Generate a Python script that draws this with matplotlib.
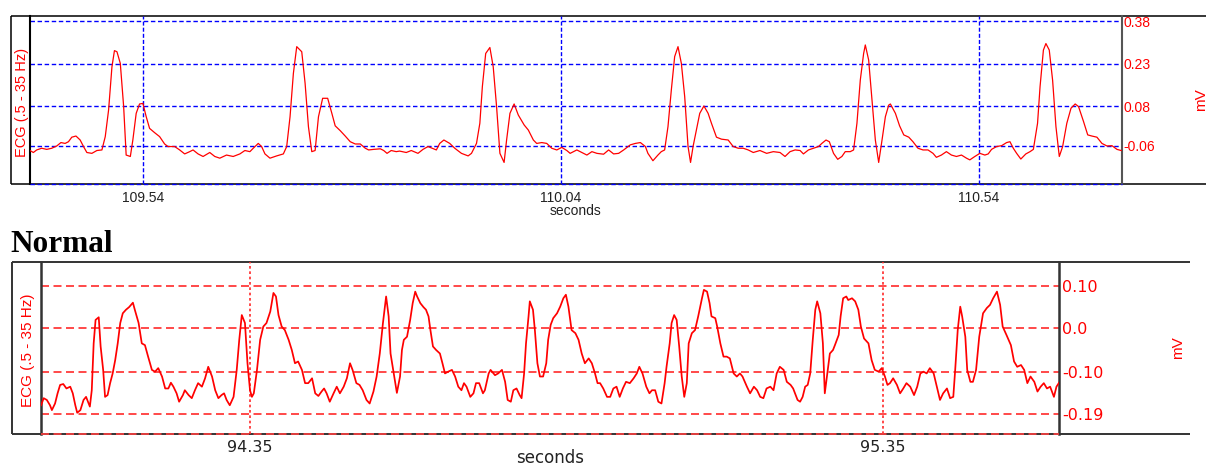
import matplotlib
matplotlib.use("Agg")
import matplotlib.pyplot as plt
from matplotlib.lines import Line2D

plt.rcParams['font.family'] = ['Liberation Sans', 'DejaVu Sans']

W, H = 1206, 470

# ---- upper recording (seconds, mV) ----
top_t = [
    109.405, 109.409, 109.413, 109.419, 109.425, 109.431, 109.437, 109.442, 109.447, 109.451,
    109.455, 109.460, 109.465, 109.469, 109.473, 109.479, 109.485, 109.491, 109.495, 109.499,
    109.503, 109.506, 109.509, 109.513, 109.517, 109.520, 109.525, 109.528, 109.532, 109.536,
    109.540, 109.544, 109.548, 109.554, 109.560, 109.566, 109.570, 109.578, 109.584, 109.590,
    109.596, 109.600, 109.606, 109.612, 109.620, 109.626, 109.632, 109.640, 109.648, 109.656,
    109.662, 109.668, 109.672, 109.678, 109.682, 109.686, 109.692, 109.700, 109.708, 109.712,
    109.716, 109.720, 109.724, 109.730, 109.734, 109.738, 109.742, 109.746, 109.750, 109.755,
    109.761, 109.766, 109.770, 109.776, 109.782, 109.788, 109.794, 109.800, 109.806, 109.810,
    109.816, 109.824, 109.828, 109.832, 109.837, 109.843, 109.847,
    109.855, 109.861, 109.869, 109.875, 109.881, 109.887, 109.891, 109.895, 109.900, 109.907,
    109.913, 109.921, 109.929, 109.933, 109.939, 109.943, 109.946, 109.950, 109.955, 109.959,
    109.963, 109.967, 109.972, 109.975, 109.979, 109.984, 109.989, 109.996, 110.001, 110.007,
    110.011, 110.017, 110.023, 110.029, 110.035, 110.041, 110.047, 110.051, 110.059, 110.065,
    110.071, 110.077, 110.083, 110.091, 110.097, 110.103, 110.109, 110.115, 110.123, 110.129,
    110.135, 110.141, 110.144, 110.150, 110.156, 110.160, 110.164, 110.168, 110.172, 110.176,
    110.180, 110.184, 110.188, 110.192, 110.195, 110.198, 110.202, 110.206, 110.211, 110.216,
    110.220, 110.226, 110.232, 110.240, 110.246, 110.252, 110.258, 110.264, 110.270, 110.278,
    110.286, 110.294, 110.302, 110.308, 110.314, 110.320, 110.326,
    110.330, 110.336, 110.342, 110.348, 110.352, 110.357, 110.361, 110.366, 110.371, 110.376,
    110.380, 110.386, 110.390, 110.394, 110.398, 110.402, 110.404, 110.408, 110.412, 110.416,
    110.420, 110.424, 110.428, 110.432, 110.434, 110.440, 110.445, 110.450, 110.456, 110.461,
    110.467, 110.473, 110.479, 110.485, 110.489, 110.495, 110.501, 110.507, 110.513, 110.519,
    110.525, 110.529, 110.535, 110.541, 110.547, 110.551, 110.555, 110.561, 110.567, 110.573,
    110.577, 110.581, 110.585, 110.590, 110.596, 110.601, 110.605, 110.610, 110.613, 110.617,
    110.620, 110.624, 110.628, 110.632, 110.636, 110.640, 110.645, 110.650, 110.655, 110.659,
    110.665, 110.670, 110.675, 110.681, 110.687, 110.693, 110.699, 110.705, 110.710,
]
top_mv = [
    -0.076, -0.083, -0.074, -0.068, -0.072, -0.068, -0.060, -0.048, -0.051, -0.045,
    -0.029, -0.025, -0.039, -0.062, -0.083, -0.086, -0.076, -0.074, -0.027, 0.067,
    0.219, 0.276, 0.272, 0.231, 0.079, -0.092, -0.097, -0.039, 0.055, 0.088,
    0.090, 0.043, 0.002, -0.013, -0.027, -0.053, -0.062, -0.062, -0.074, -0.088,
    -0.080, -0.074, -0.088, -0.097, -0.083, -0.097, -0.103, -0.092, -0.097, -0.088,
    -0.076, -0.080, -0.068, -0.051, -0.062, -0.088, -0.103, -0.095, -0.088, -0.062,
    0.043, 0.196, 0.290, 0.272, 0.161, 0.008, -0.080, -0.076, 0.043, 0.108,
    0.108, 0.055, 0.011, -0.006, -0.025, -0.045, -0.053, -0.053, -0.068, -0.074,
    -0.072, -0.070, -0.076, -0.086, -0.076, -0.080, -0.078,
    -0.083, -0.076, -0.086, -0.072, -0.062, -0.069, -0.074, -0.051, -0.039, -0.051,
    -0.068, -0.086, -0.095, -0.086, -0.051, 0.020, 0.149, 0.266, 0.287, 0.219,
    0.079, -0.086, -0.118, -0.039, 0.055, 0.088, 0.049, 0.014, -0.004, -0.039,
    -0.051, -0.048, -0.051, -0.068, -0.074, -0.065, -0.076, -0.086, -0.074, -0.083,
    -0.092, -0.080, -0.086, -0.089, -0.074, -0.088, -0.086, -0.074, -0.056, -0.051,
    -0.048, -0.062, -0.086, -0.112, -0.092, -0.080, -0.074, 0.008, 0.137, 0.255,
    0.290, 0.231, 0.114, -0.062, -0.118, -0.062, -0.004, 0.055, 0.081, 0.055,
    0.020, -0.029, -0.036, -0.039, -0.062, -0.068, -0.068, -0.074, -0.083, -0.076,
    -0.086, -0.080, -0.083, -0.097, -0.080, -0.074, -0.076,
    -0.088, -0.074, -0.068, -0.062, -0.051, -0.039, -0.045, -0.086, -0.107, -0.097,
    -0.080, -0.080, -0.074, 0.020, 0.172, 0.266, 0.296, 0.243, 0.102, -0.039,
    -0.118, -0.039, 0.043, 0.084, 0.088, 0.055, 0.011, -0.021, -0.029, -0.045,
    -0.068, -0.074, -0.074, -0.086, -0.100, -0.092, -0.080, -0.092, -0.097, -0.092,
    -0.103, -0.109, -0.097, -0.086, -0.092, -0.088, -0.072, -0.062, -0.059, -0.048,
    -0.045, -0.068, -0.086, -0.106, -0.088, -0.080, -0.072, 0.020, 0.149, 0.278,
    0.301, 0.278, 0.172, 0.008, -0.097, -0.062, 0.020, 0.073, 0.088, 0.079,
    0.026, -0.021, -0.025, -0.029, -0.051, -0.060, -0.059, -0.072, -0.076,
]
top_xticks = [109.54, 110.04, 110.54]
top_xlabels = ['109.54', '110.04', '110.54']
top_yticks = [0.38, 0.23, 0.08, -0.06]
top_ylabels = ['0.38', '0.23', '0.08', '-0.06']

# ---- lower recording ("Normal") ----
bot_t = [
    94.020, 94.024, 94.029, 94.034, 94.037, 94.042, 94.046, 94.050, 94.055, 94.060,
    94.066, 94.070, 94.074, 94.077, 94.082, 94.087, 94.091, 94.095, 94.097, 94.100,
    94.103, 94.106, 94.111, 94.114, 94.118, 94.121, 94.125, 94.129, 94.133, 94.137,
    94.141, 94.145, 94.149, 94.154, 94.159, 94.165, 94.168, 94.174, 94.179, 94.184,
    94.189, 94.195, 94.200, 94.205, 94.211, 94.216, 94.221, 94.225, 94.229, 94.234,
    94.238, 94.244, 94.247, 94.253, 94.258, 94.263, 94.268, 94.274, 94.279, 94.284,
    94.290, 94.295, 94.300, 94.305, 94.309, 94.313, 94.318, 94.324, 94.329, 94.333,
    94.337, 94.342, 94.346, 94.350, 94.353, 94.356, 94.361, 94.366, 94.371, 94.376,
    94.382, 94.387, 94.391, 94.395, 94.400, 94.405, 94.411, 94.416, 94.421, 94.426,
    94.432, 94.437, 94.442, 94.448, 94.453, 94.458, 94.463, 94.467, 94.471, 94.476,
    94.482, 94.487, 94.492, 94.498, 94.503, 94.508, 94.512, 94.518, 94.523, 94.528,
    94.534, 94.539, 94.545, 94.550, 94.555, 94.560, 94.565, 94.569, 94.572, 94.577,
    94.582,
    94.587, 94.590, 94.593, 94.598, 94.600, 94.603, 94.607, 94.611, 94.614, 94.619,
    94.624, 94.628, 94.632, 94.635, 94.639, 94.644, 94.650, 94.654, 94.658, 94.663,
    94.669, 94.674, 94.679, 94.684, 94.688, 94.692, 94.698, 94.703, 94.707, 94.712,
    94.718, 94.721, 94.727, 94.730, 94.737, 94.742, 94.748, 94.753, 94.757, 94.762,
    94.766, 94.771, 94.776, 94.779, 94.783, 94.786, 94.790, 94.792, 94.797, 94.800,
    94.804, 94.808, 94.813, 94.818, 94.821, 94.825, 94.829, 94.835, 94.840, 94.845,
    94.849, 94.853, 94.858, 94.864, 94.869, 94.874, 94.879, 94.885, 94.890, 94.895,
    94.899, 94.903, 94.908, 94.914, 94.919, 94.924, 94.929, 94.934, 94.939, 94.944,
    94.950, 94.956, 94.961, 94.965, 94.970, 94.976, 94.981, 94.985, 94.990, 94.995,
    95.000, 95.005, 95.008, 95.013, 95.016, 95.020, 95.024, 95.028, 95.032, 95.036,
    95.040, 95.043, 95.048, 95.053, 95.058, 95.064, 95.067, 95.072, 95.076, 95.079,
    95.085, 95.088, 95.093, 95.098, 95.103, 95.108, 95.114, 95.119, 95.124, 95.128,
    95.135, 95.140, 95.146, 95.151, 95.156, 95.161, 95.166, 95.172, 95.177, 95.182,
    95.187, 95.193, 95.198, 95.204, 95.208, 95.215, 95.219,
    95.223, 95.227, 95.231, 95.235, 95.239, 95.243, 95.246, 95.251, 95.255, 95.258,
    95.262, 95.266, 95.271, 95.274, 95.280, 95.283, 95.287, 95.292, 95.295, 95.301,
    95.306, 95.311, 95.315, 95.320, 95.327, 95.332, 95.337, 95.343, 95.348, 95.353,
    95.357, 95.361, 95.366, 95.372, 95.377, 95.382, 95.387, 95.393, 95.399, 95.404,
    95.409, 95.414, 95.419, 95.424, 95.430, 95.435, 95.440, 95.445, 95.451, 95.456,
    95.461, 95.464, 95.468, 95.472, 95.475, 95.480, 95.483, 95.488, 95.492, 95.497,
    95.502, 95.508, 95.514, 95.519, 95.524, 95.530, 95.535, 95.539, 95.545, 95.552,
    95.557, 95.562, 95.568, 95.573, 95.578, 95.583, 95.589, 95.594, 95.599, 95.604,
    95.609, 95.614, 95.620, 95.624, 95.629,
]
bot_mv = [
    -0.170, -0.154, -0.158, -0.170, -0.181, -0.166, -0.143, -0.124, -0.122, -0.132,
    -0.128, -0.143, -0.170, -0.187, -0.181, -0.158, -0.151, -0.166, -0.173, -0.136,
    -0.030, 0.023, 0.029, -0.037, -0.090, -0.151, -0.147, -0.120, -0.098, -0.068,
    -0.030, 0.016, 0.038, 0.046, 0.052, 0.062, 0.046, 0.016, -0.030, -0.034,
    -0.060, -0.090, -0.094, -0.086, -0.105, -0.132, -0.132, -0.119, -0.128, -0.143,
    -0.162, -0.147, -0.136, -0.147, -0.154, -0.136, -0.120, -0.128, -0.109, -0.083,
    -0.105, -0.136, -0.154, -0.147, -0.143, -0.158, -0.170, -0.151, -0.090, -0.022,
    0.034, 0.016, -0.075, -0.136, -0.151, -0.143, -0.090, -0.022, 0.008, 0.016,
    0.042, 0.084, 0.076, 0.034, 0.008, 0.000, -0.022, -0.045, -0.075, -0.071,
    -0.090, -0.120, -0.120, -0.109, -0.143, -0.149, -0.139, -0.132, -0.143, -0.162,
    -0.143, -0.128, -0.143, -0.128, -0.109, -0.075, -0.090, -0.120, -0.124, -0.136,
    -0.158, -0.166, -0.139, -0.105, -0.053, 0.016, 0.076, 0.031, -0.053, -0.098,
    -0.142,
    -0.105, -0.045, -0.022, -0.015, 0.000, 0.023, 0.061, 0.087, 0.076, 0.061,
    0.052, 0.046, 0.031, 0.000, -0.037, -0.045, -0.053, -0.075, -0.098, -0.094,
    -0.090, -0.105, -0.128, -0.136, -0.120, -0.128, -0.151, -0.143, -0.120, -0.120,
    -0.143, -0.136, -0.098, -0.090, -0.102, -0.098, -0.090, -0.117, -0.158, -0.162,
    -0.136, -0.132, -0.147, -0.154, -0.098, -0.030, 0.031, 0.065, 0.046, 0.000,
    -0.075, -0.105, -0.105, -0.075, -0.022, 0.012, 0.027, 0.038, 0.053, 0.072,
    0.080, 0.053, 0.000, -0.007, -0.022, -0.053, -0.075, -0.064, -0.075, -0.098,
    -0.120, -0.120, -0.132, -0.151, -0.151, -0.132, -0.128, -0.151, -0.132, -0.117,
    -0.120, -0.109, -0.098, -0.083, -0.098, -0.128, -0.143, -0.136, -0.136, -0.162,
    -0.166, -0.120, -0.083, -0.030, 0.016, 0.034, 0.023, -0.037, -0.105, -0.151,
    -0.120, -0.030, -0.007, 0.000, 0.031, 0.072, 0.091, 0.087, 0.061, 0.031,
    0.027, 0.008, -0.030, -0.060, -0.060, -0.064, -0.098, -0.105, -0.098, -0.105,
    -0.128, -0.143, -0.128, -0.136, -0.151, -0.154, -0.132, -0.128, -0.136, -0.098,
    -0.083, -0.090, -0.117, -0.124, -0.132, -0.158, -0.162,
    -0.151, -0.128, -0.124, -0.098, -0.022, 0.046, 0.065, 0.038, -0.030, -0.143,
    -0.098, -0.053, -0.045, -0.034, -0.011, 0.031, 0.072, 0.076, 0.068, 0.072,
    0.065, 0.046, 0.008, -0.019, -0.030, -0.068, -0.090, -0.094, -0.086, -0.105,
    -0.124, -0.120, -0.109, -0.124, -0.143, -0.132, -0.120, -0.128, -0.147, -0.128,
    -0.098, -0.094, -0.098, -0.086, -0.098, -0.128, -0.158, -0.143, -0.132, -0.154,
    -0.151, -0.090, 0.000, 0.053, 0.031, -0.015, -0.090, -0.117, -0.117, -0.090,
    -0.015, 0.038, 0.050, 0.057, 0.072, 0.087, 0.057, 0.008, -0.011, -0.034,
    -0.071, -0.083, -0.079, -0.090, -0.120, -0.105, -0.117, -0.139, -0.128, -0.120,
    -0.132, -0.128, -0.151, -0.128, -0.117,
]
bot_xticks = [94.35, 95.35]
bot_xlabels = ['94.35', '95.35']
bot_yticks = [0.10, 0.005, -0.095, -0.19]
bot_ylabels = ['0.10', '0.0', '-0.10', '-0.19']


fig = plt.figure(figsize=(W / 100, H / 100), dpi=100)


def fx(px):
    return px / W


def fy(py):
    return 1 - py / H


def frame_line(x0, y0, x1, y1, color, lw):
    fig.add_artist(Line2D([fx(x0), fx(x1)], [fy(y0), fy(y1)], transform=fig.transFigure,
                          color=color, lw=lw, solid_capstyle='butt', zorder=-1))


# ---------------- upper panel ----------------
frame_line(11, 16, 1206, 16, 'black', 1.1)
frame_line(11, 184, 1206, 184, 'black', 1.1)
frame_line(11, 16, 11, 184, 'black', 1.1)

ax1 = fig.add_axes([fx(30), fy(184), fx(1122) - fx(30), fy(16) - fy(184)])
ax1.patch.set_visible(False)
ax1.plot(top_t, top_mv, color='#ff0000', lw=0.9, zorder=3)
ax1.set_xlim(109.405, 110.711)
ax1.set_ylim(-0.194, 0.398)
ax1.set_xticks(top_xticks)
ax1.set_xticklabels(top_xlabels, fontsize=10, color='#222222')
ax1.yaxis.tick_right()
ax1.set_yticks(top_yticks)
ax1.set_yticklabels(top_ylabels, fontsize=10, color='#ff0000')
ax1.tick_params(length=0)
ax1.tick_params(axis='x', pad=5)
ax1.tick_params(axis='y', pad=1)
ax1.grid(axis='x', color='#0000ff', lw=1.0, linestyle=(0, (2.9, 1.5)))
ax1.grid(axis='y', color='#0000ff', lw=1.0, linestyle=(0, (3.2, 1.9)))
ax1.axhline(ax1.get_ylim()[0], color='#0000ff', lw=1.0, linestyle=(0, (3.2, 1.9)),
            clip_on=False, zorder=4)
ax1.spines['top'].set_visible(False)
ax1.spines['bottom'].set_visible(False)
ax1.spines['left'].set_color('black')
ax1.spines['left'].set_linewidth(1.5)
ax1.spines['right'].set_color('#555555')
ax1.spines['right'].set_linewidth(1.5)
ax1.set_xlabel('seconds', fontsize=10, color='#222222', labelpad=-1)

fig.text(fx(22), fy(102), 'ECG (.5 - 35 Hz)', rotation=90, ha='center', va='center',
         color='#ff0000', fontsize=10.5)
fig.text(fx(1201), fy(100), 'mV', rotation=90, ha='center', va='center',
         color='#ff0000', fontsize=11)

# ---------------- caption ----------------
fig.text(fx(10), fy(252), 'Normal', family='Liberation Serif', weight='bold',
         fontsize=22.5, va='baseline', ha='left')

# ---------------- lower panel ----------------
frame_line(12, 262, 1190, 262, '#333333', 1.4)
frame_line(12, 434, 1190, 434, '#333333', 1.4)
frame_line(12, 262, 12, 434, '#333333', 1.4)

ax2 = fig.add_axes([fx(41), fy(434), fx(1059) - fx(41), fy(262) - fy(434)])
ax2.patch.set_visible(False)
ax2.plot(bot_t, bot_mv, color='#ff0000', lw=1.25, zorder=3)
ax2.set_xlim(94.0198, 95.628)
ax2.set_ylim(-0.235, 0.154)
ax2.set_xticks(bot_xticks)
ax2.set_xticklabels(bot_xlabels, family='DejaVu Sans', fontsize=11.5, color='#222222')
ax2.yaxis.tick_right()
ax2.set_yticks(bot_yticks)
ax2.set_yticklabels(bot_ylabels, family='DejaVu Sans', fontsize=11.5, color='#ff0000')
ax2.tick_params(length=0)
ax2.tick_params(axis='x', pad=4)
ax2.tick_params(axis='y', pad=2)
ax2.grid(axis='x', color='#ff2a2a', lw=1.2, linestyle=(0, (1.6, 1.6)))
ax2.grid(axis='y', color='#ff2a2a', lw=1.2, linestyle=(0, (4.8, 2.7)))
ax2.axhline(ax2.get_ylim()[0], color='#ff4040', lw=1.2, linestyle=(0, (4.8, 2.7)),
            clip_on=False, zorder=4)
ax2.spines['top'].set_visible(False)
ax2.spines['bottom'].set_visible(False)
ax2.spines['left'].set_color('#333333')
ax2.spines['left'].set_linewidth(1.8)
ax2.spines['right'].set_color('#333333')
ax2.spines['right'].set_linewidth(1.8)
ax2.set_xlabel('seconds', family='DejaVu Sans', fontsize=12, color='#222222', labelpad=-4)

fig.text(fx(28), fy(350), 'ECG (.5 - 35 Hz)', rotation=90, ha='center', va='center',
         color='#ff0000', fontsize=11)
fig.text(fx(1178), fy(348), 'mV', rotation=90, ha='center', va='center',
         color='#ff0000', fontsize=11)

fig.savefig('out.png', dpi=100)
